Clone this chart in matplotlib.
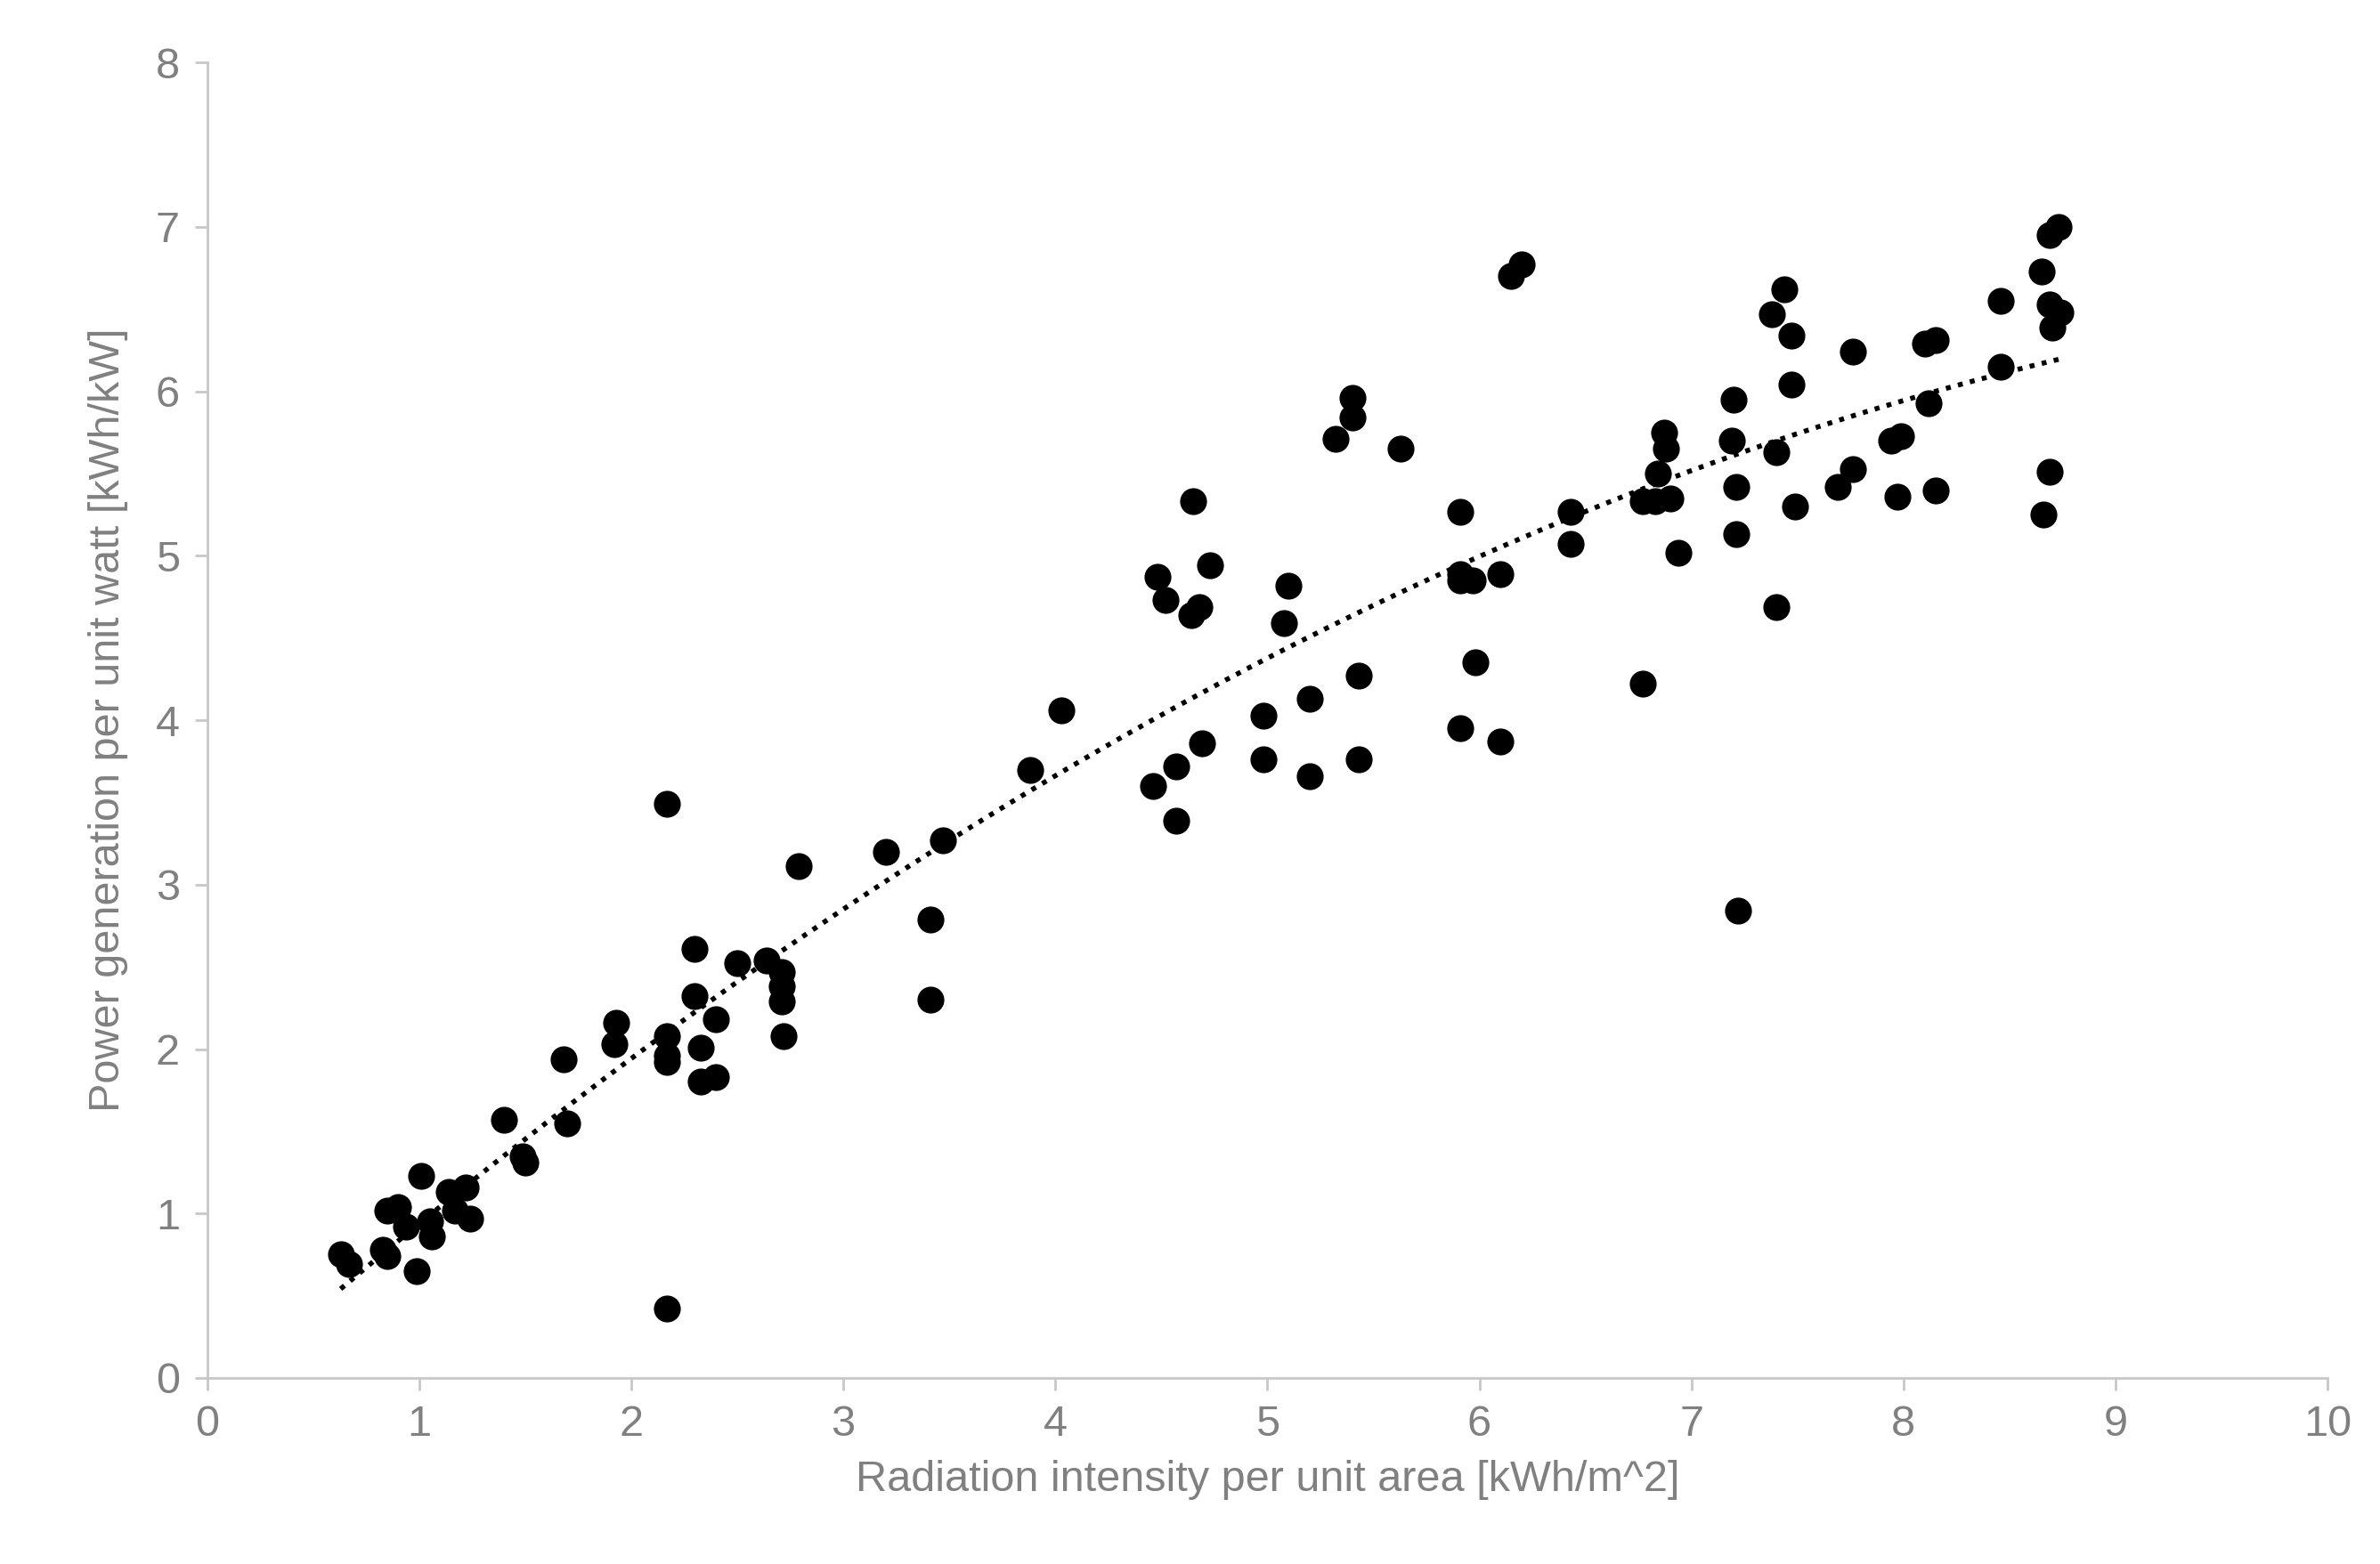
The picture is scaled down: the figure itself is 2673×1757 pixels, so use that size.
import numpy as np
import matplotlib.pyplot as plt

plt.rcParams['font.family'] = ['Liberation Sans', 'DejaVu Sans']

# radiation intensity [kWh/m^2] and power generation [kWh/kW]
radiation = [0.63, 0.67, 0.83, 0.85, 0.90, 0.85, 0.94, 1.01, 0.99, 1.05, 1.06, 1.14, 1.17, 1.22, 1.24,
             1.40, 1.49, 1.50, 1.68, 1.70, 1.93, 1.92, 2.17, 2.17, 2.17, 2.17, 2.17, 2.30, 2.30, 2.33,
             2.33, 2.40, 2.40, 2.50, 2.64, 2.71, 2.71, 2.71, 2.72, 2.79, 3.20, 3.47, 3.41, 3.41, 3.88,
             4.03, 4.46, 4.57, 4.57, 4.69, 4.48, 4.52, 4.64, 4.68, 4.65, 4.73, 4.98, 4.98, 5.10, 5.08,
             5.20, 5.20, 5.32, 5.40, 5.40, 5.43, 5.43, 5.63, 5.91, 5.91, 5.91, 5.91, 5.97, 5.98, 6.10,
             6.10, 6.15, 6.20, 6.43, 6.43, 6.77, 6.83, 6.77, 6.84, 6.87, 6.88, 6.90, 6.94, 7.20, 7.19,
             7.21, 7.21, 7.22, 7.38, 7.44, 7.40, 7.40, 7.47, 7.47, 7.49, 7.69, 7.76, 7.76, 7.94, 7.99,
             7.97, 8.12, 8.10, 8.15, 8.15, 8.46, 8.46, 8.65, 8.69, 8.69, 8.66, 8.69, 8.73, 8.70, 8.74]
power = [0.75, 0.69, 0.78, 1.02, 1.04, 0.74, 0.92, 1.23, 0.65, 0.95, 0.86, 1.13, 1.02, 1.16, 0.97,
         1.57, 1.35, 1.31, 1.94, 1.55, 2.16, 2.03, 3.49, 2.08, 1.96, 1.92, 0.42, 2.61, 2.32, 2.01,
         1.80, 1.83, 2.18, 2.52, 2.54, 2.47, 2.38, 2.29, 2.08, 3.11, 3.20, 3.27, 2.79, 2.30, 3.70,
         4.06, 3.60, 3.72, 3.39, 3.86, 4.87, 4.73, 4.64, 4.69, 5.33, 4.94, 4.03, 3.76, 4.82, 4.59,
         4.13, 3.66, 5.71, 5.96, 5.84, 4.27, 3.76, 5.65, 5.27, 4.89, 4.85, 3.95, 4.85, 4.35, 4.89,
         3.87, 6.70, 6.77, 5.27, 5.07, 5.33, 5.33, 4.22, 5.50, 5.75, 5.65, 5.35, 5.02, 5.95, 5.70,
         5.42, 5.13, 2.84, 6.47, 6.62, 5.63, 4.69, 6.34, 6.04, 5.30, 5.42, 6.24, 5.53, 5.70, 5.73,
         5.36, 5.93, 6.29, 6.31, 5.40, 6.55, 6.15, 6.73, 6.53, 5.51, 5.25, 6.95, 7.00, 6.39, 6.48]

grey = '#808080'

fig = plt.figure(figsize=(26.73, 17.57), dpi=100)
ax = fig.add_axes([0.087, 0.119, 0.891, 0.841])

ax.scatter(radiation, power, s=430, color='black', zorder=3)

# polynomial trend line (order 2)
coef = np.polyfit(radiation, power, 2)
xs = np.linspace(min(radiation), max(radiation), 200)
ax.plot(xs, np.polyval(coef, xs), color='black', linestyle=(0, (1, 1.5)), linewidth=4, zorder=2)

ax.set_xlim(0, 10)
ax.set_ylim(0, 8)
ax.set_xticks(range(0, 11))
ax.set_yticks(range(0, 9))
for side in ['top', 'right']:
    ax.spines[side].set_visible(False)
for side in ['left', 'bottom']:
    ax.spines[side].set_color('#c8c8c8')
    ax.spines[side].set_linewidth(2)
ax.tick_params(direction='out', length=10, width=2, color='#c8c8c8',
               labelcolor=grey, labelsize=35, pad=12)
ax.set_xlabel('Radiation intensity per unit area [kWh/m^2]', fontsize=35, color=grey, labelpad=12)
ax.set_ylabel('Power generation per unit watt [kWh/kW]', fontsize=35, color=grey, labelpad=22)

fig.savefig('out.png', dpi=100)
